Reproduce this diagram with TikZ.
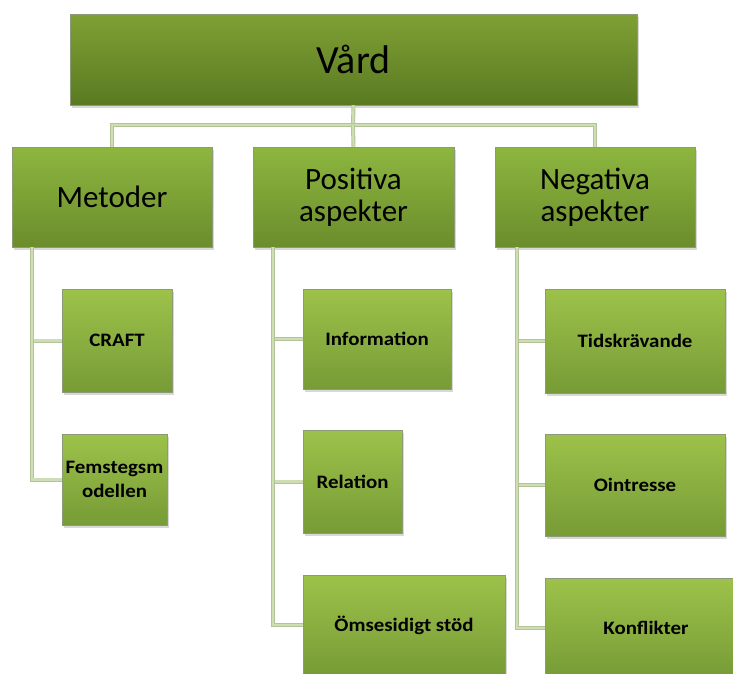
\documentclass[tikz,border=0pt]{standalone}
\usepackage{fontspec}
\setmainfont{Carlito}
\usetikzlibrary{shadows}
\definecolor{rtop}{HTML}{7FA034}
\definecolor{rbot}{HTML}{5A7A22}
\definecolor{atop}{HTML}{8DB63F}
\definecolor{abot}{HTML}{6B8D2C}
\definecolor{btop}{HTML}{9DC24A}
\definecolor{bbot}{HTML}{779B36}
\definecolor{lineedge}{HTML}{B3C496}
\definecolor{linefill}{HTML}{CEDDB3}
\definecolor{boxedge}{HTML}{8C9A78}
\newcommand{\hwide}[1]{\scalebox{1.1}[1]{#1}}
\tikzset{
  gbox/.style={rectangle, draw=boxedge, line width=0.5pt, inner sep=0pt, align=center,
    drop shadow={shadow xshift=1.5pt, shadow yshift=-2.5pt, opacity=0.3}},
  rootbox/.style={gbox, top color=rtop, bottom color=rbot, font=\fontsize{40}{44}\selectfont},
  headbox/.style={gbox, top color=atop, bottom color=abot, font=\fontsize{31}{32}\selectfont},
  leafbox/.style={gbox, top color=btop, bottom color=bbot, font=\bfseries\fontsize{19}{24}\selectfont},
  conn/.style={draw=lineedge, line width=0.9pt, double=linefill, double distance=2.2pt}
}
\begin{document}
\begin{tikzpicture}[x=1pt,y=-1pt]
\useasboundingbox (0,0) rectangle (733,673);
\clip (0,0) rectangle (733,673);
\fill[white] (0,0) rectangle (733,673);
% nodes
\node[rootbox, minimum width=567pt, minimum height=91pt] (vard) at (353.5,59.5) {Vård};
\node[headbox, minimum width=200pt, minimum height=100pt] (met) at (112,197) {Metoder};
\node[headbox, minimum width=201pt, minimum height=100pt] (pos) at (353.5,197) {Positiva\\aspekter};
\node[headbox, minimum width=200pt, minimum height=100pt] (neg) at (595,197) {Negativa\\aspekter};
\coordinate (bus) at (353,125);
% connectors level 1
\draw[conn] (vard.south) -- (bus);
\draw[conn] (met.north) |- (bus) -| (neg.north);
\draw[conn] (bus) -- (pos.north);
% leaves
\node[leafbox, minimum width=110pt, minimum height=103pt] (craft) at (117,340.5) {\hwide{CRAFT}};
\node[leafbox, minimum width=105pt, minimum height=91pt] (fem) at (114.5,479.5) {\hwide{Femstegsm}\\\hwide{odellen}};
\node[leafbox, minimum width=148pt, minimum height=100pt] (info) at (377,339) {\hwide{Information}};
\node[leafbox, minimum width=99pt, minimum height=103pt] (rel) at (352.5,481.5) {\hwide{Relation}};
\node[leafbox, minimum width=202pt, minimum height=100pt] (oms) at (404,625) {\hwide{Ömsesidigt stöd}};
\node[leafbox, minimum width=180pt, minimum height=104pt] (tid) at (635,341) {\hwide{Tidskrävande}};
\node[leafbox, minimum width=180pt, minimum height=102pt] (oin) at (635,485) {\hwide{Ointresse}};
\node[leafbox, minimum width=202pt, minimum height=100pt] (kon) at (646,628) {\hwide{Konflikter}};
% connectors level 2
\draw[conn] ([xshift=20pt]met.south west) |- (craft.west);
\draw[conn] ([xshift=20pt]met.south west) |- (fem.west);
\draw[conn] ([xshift=20pt]pos.south west) |- (info.west);
\draw[conn] ([xshift=20pt]pos.south west) |- (rel.west);
\draw[conn] ([xshift=20pt]pos.south west) |- (oms.west);
\draw[conn] ([xshift=22pt]neg.south west) |- (tid.west);
\draw[conn] ([xshift=22pt]neg.south west) |- (oin.west);
\draw[conn] ([xshift=22pt]neg.south west) |- (kon.west);
\end{tikzpicture}
\end{document}
